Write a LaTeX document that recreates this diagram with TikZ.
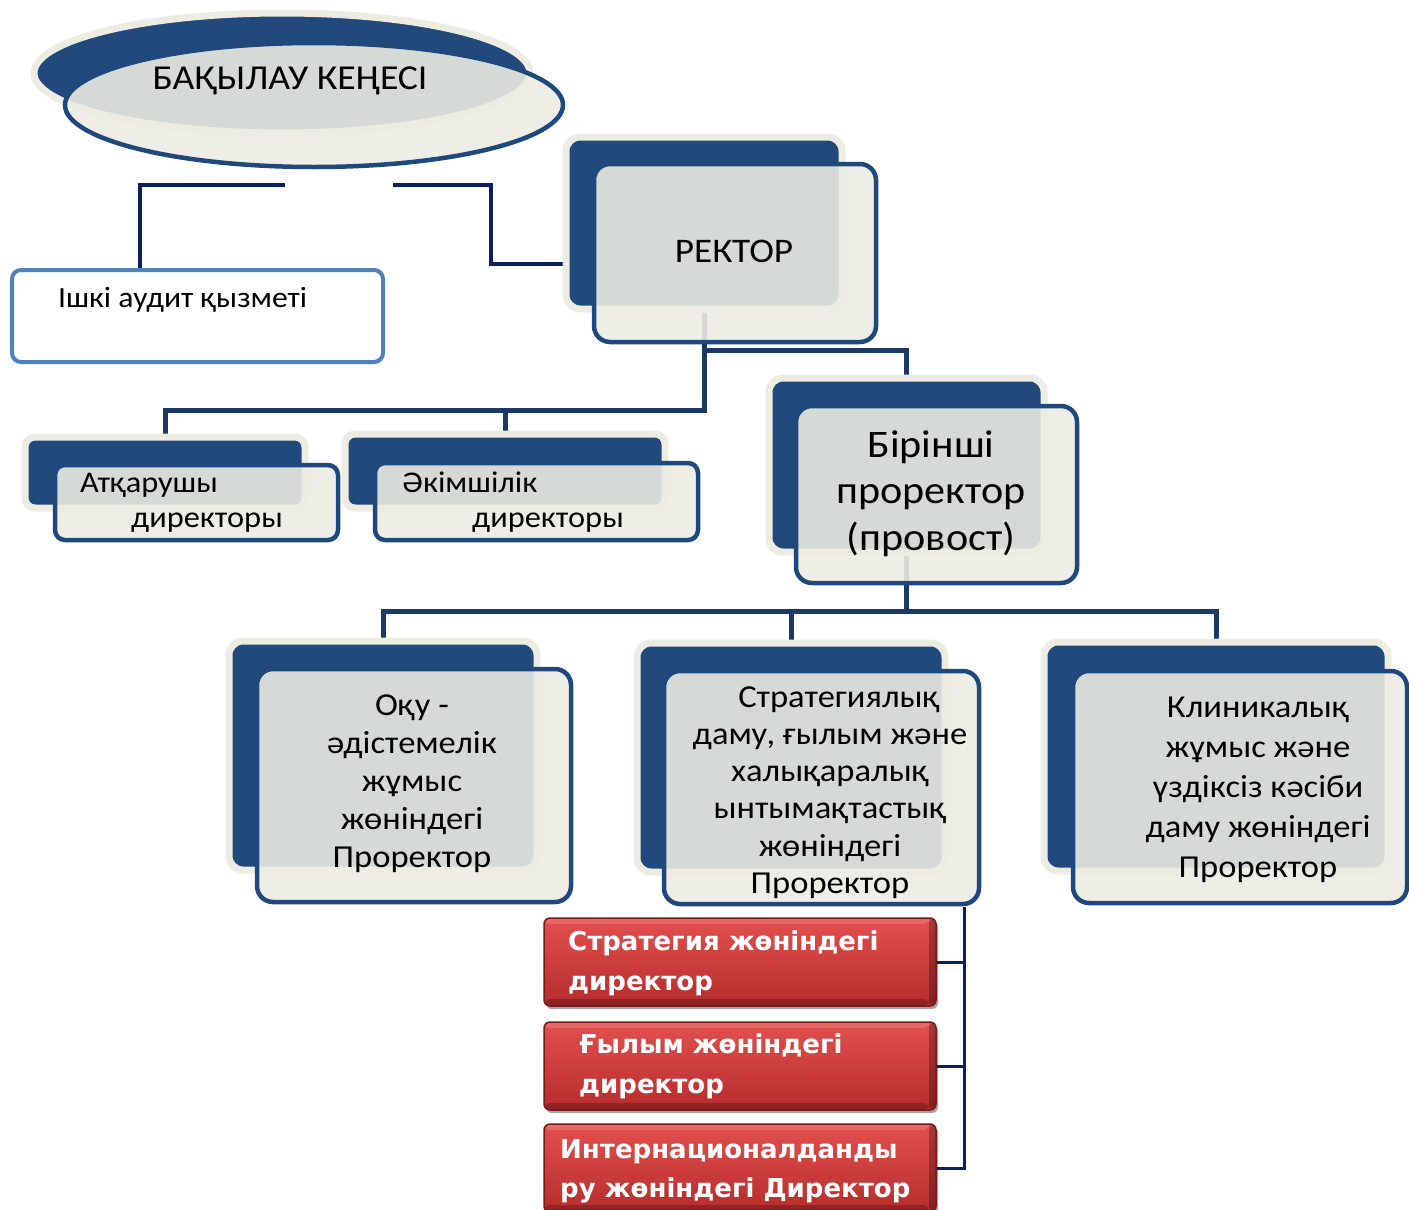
\documentclass[tikz,border=0pt]{standalone}
\usepackage{fontspec}
\setmainfont{Carlito}[FakeStretch=1.08]
\newfontfamily\redfont{DejaVu Sans}
\usetikzlibrary{fit,shapes.geometric,shadows,calc}
\pgfdeclarelayer{paper}
\pgfdeclarelayer{bg}
\pgfsetlayers{paper,bg,main}
\definecolor{dkblue}{RGB}{33,73,123}
\definecolor{creamc}{RGB}{237,236,227}
\definecolor{fblue}{RGB}{31,73,125}
\definecolor{connc}{RGB}{28,56,100}
\definecolor{navyc}{RGB}{10,32,92}
\definecolor{auditc}{RGB}{79,129,189}
\definecolor{redtop}{RGB}{226,80,78}
\definecolor{redbot}{RGB}{182,44,44}
\definecolor{rededge}{RGB}{120,24,24}
\newcommand\TL[6]{\foreach \t [count=\i] in {#6}{\node[txt,anchor=base,font=\fontsize{#2}{#2}\selectfont] (#1\i) at (#3,{#4+#5*(\i-1)}) {\t};}}
\tikzset{
  backbox/.style={rectangle, rounded corners=#1, fill=dkblue, draw=creamc, line width=7pt, inner sep=0pt},
  backbox/.default=14pt,
  frontbox/.style={rectangle, rounded corners=#1, fill=creamc, fill opacity=0.89, draw=fblue, draw opacity=1, line width=4.5pt, inner sep=0pt},
  frontbox/.default=16pt,
  redbox/.style={rectangle, rounded corners=6pt, top color=redtop, bottom color=redbot, draw=rededge, line width=1.5pt, inner sep=0pt,
    drop shadow={shadow xshift=2pt, shadow yshift=-3pt, opacity=0.35, fill=black},
    path picture={
      \fill[black,opacity=0.28] ([xshift=-7pt]path picture bounding box.north east) rectangle (path picture bounding box.south east);
      \fill[black,opacity=0.22] ([yshift=7pt]path picture bounding box.south west) rectangle ([xshift=-7pt]path picture bounding box.south east);
      \fill[white,opacity=0.15] (path picture bounding box.north west) rectangle ([yshift=-6pt,xshift=-7pt]path picture bounding box.north east);
    }},
  conn/.style={draw=connc, line width=5pt},
  econn/.style={draw=navyc, line width=4pt},
  rconn/.style={draw=navyc, line width=3pt},
  txt/.style={inner sep=0pt, text=black},
  rtxt/.style={inner sep=0pt, text=white, anchor=base west, font=\redfont\bfseries\fontsize{26}{31}\selectfont},
}
\begin{document}
\begin{tikzpicture}[x=1pt,y=-1pt]
\useasboundingbox (0,0) rectangle (1409,1210);
\begin{pgfonlayer}{paper}
\fill[white] (0,0) rectangle (1409,1210);
\end{pgfonlayer}

% ---- council (ellipses)
\node[ellipse, fill=dkblue, draw=creamc, line width=7pt, minimum width=496pt, minimum height=120pt, inner sep=0pt] (councilB) at (282,73) {};
\node[ellipse, fill=creamc, fill opacity=0.89, draw=fblue, draw opacity=1, line width=4.5pt, minimum width=498pt, minimum height=124pt, inner sep=0pt] (council) at (314,105) {};
\node[txt, anchor=base, font=\fontsize{35}{35}\selectfont] (councilT) at (290,89) {БАҚЫЛАУ КЕҢЕСІ};

% ---- internal audit
\node[rectangle, rounded corners=9pt, fill=white, draw=auditc, line width=4pt, inner sep=0pt, fit={(12,270)(383,362)}] (audit) {};
\node[txt, anchor=base west, font=\fontsize{29.3}{29.3}\selectfont] (auditT) at (58,307) {Ішкі аудит қызметі};

% ---- rector
\node[backbox, fit={(566,137)(842,309)}] (rectorB) {};
\node[frontbox, fit={(594,164)(876,342)}] (rector) {};
\node[txt, anchor=base, font=\fontsize{34.5}{34.5}\selectfont] (rectorT) at (734,262) {РЕКТОР};

% ---- executive / administrative directors
\node[backbox=10pt, fit={(25,437)(305,508)}] (execB) {};
\node[frontbox=10pt, fit={(55,465)(338,540)}] (exec) {};
\node[txt, anchor=base west, font=\fontsize{30}{30}\selectfont] (execT1) at (80,492) {Атқарушы};
\node[txt, anchor=base west, font=\fontsize{30}{30}\selectfont] (execT2) at (131,527) {директоры};

\node[backbox=10pt, fit={(345,434)(665,508)}] (adminB) {};
\node[frontbox=10pt, fit={(375,463)(698,540)}] (admin) {};
\node[txt, anchor=base west, font=\fontsize{30}{30}\selectfont] (adminT1) at (402,492) {Әкімшілік};
\node[txt, anchor=base west, font=\fontsize{30}{30}\selectfont] (adminT2) at (472,527) {директоры};

% ---- provost
\node[backbox, fit={(769,378)(1044,552)}] (provostB) {};
\node[frontbox, fit={(796,406)(1077,583)}] (provost) {};
\TL{pv}{39}{931}{457}{46.5}{Бірінші,проректор,{(провост)}}

% ---- vice-rectors
\node[backbox, fit={(229,641)(537,870)}] (acadB) {};
\node[frontbox, fit={(257,669)(571,902)}] (acad) {};
\TL{ac}{32}{412}{715}{38.2}{Оқу -,әдістемелік,жұмыс,жөніндегі,Проректор}

\node[backbox, fit={(637,643)(945,872)}] (stratB) {};
\node[frontbox, fit={(664,671)(979,904)}] (strat) {};
\TL{st}{32}{830}{707}{37.3}{\hspace*{18pt}Стратегиялық,{даму, ғылым және},халықаралық,ынтымақтастық,жөніндегі,Проректор}

\node[backbox, fit={(1044,642)(1388,871)}] (clinB) {};
\node[frontbox, fit={(1073,671)(1407,903)}] (clin) {};
\TL{cl}{32}{1258}{717}{40}{Клиникалық,жұмыс және,үздіксіз кәсіби,даму жөніндегі,Проректор}

% ---- red director boxes
\node[redbox, fit={(544,918)(936,1006)}] (dir1) {};
\node[rtxt] (dir1a) at (568,950) {Стратегия жөніндегі};
\node[rtxt] (dir1b) at (568,990) {директор};
\node[redbox, fit={(544,1022)(936,1110)}] (dir2) {};
\node[rtxt] (dir2a) at (579,1053) {Ғылым жөніндегі};
\node[rtxt] (dir2b) at (579,1093) {директор};
\node[redbox, fit={(544,1124)(936,1212)}] (dir3) {};
\node[rtxt] (dir3a) at (560,1158) {Интернационалданды};
\node[rtxt] (dir3b) at (560,1197) {ру жөніндегі Директор};

% ---- connectors
\begin{pgfonlayer}{bg}
\coordinate (kL) at (285,185);
\coordinate (kR) at (393,185);
\draw[econn] (kL) -| ($(audit.north west)+(130,0)$);
\draw[econn] (kR) -| ($(rectorB.west)+(-72,40.5)$) -- ($(rectorB.west)+(20,40.5)$);
\coordinate (rbus) at ($(rectorB.south)+(0,98)$);
\coordinate (rmid) at ($(rectorB.south)+(0,38)$);
\draw[conn] (rectorB.south) -- (rbus) -| (execB.north);
\draw[conn] (adminB.north) -- (adminB.north |- rbus);
\draw[conn] (rmid) -| (provostB.north);
\coordinate (pbus) at ($(provostB.south)+(0,56)$);
\draw[conn] (provostB.south) -- (pbus);
\draw[conn] (acadB.north) -- (acadB.north |- pbus) -- (clinB.north |- pbus) -- (clinB.north);
\draw[conn] (stratB.north) -- (stratB.north |- pbus);
\coordinate (rtop) at (964,907);
\draw[rconn] (rtop) |- (dir3.east);
\draw[rconn] (dir1.east) -- (dir1.east -| rtop);
\draw[rconn] (dir2.east) -- (dir2.east -| rtop);
\end{pgfonlayer}
\end{tikzpicture}
\end{document}
